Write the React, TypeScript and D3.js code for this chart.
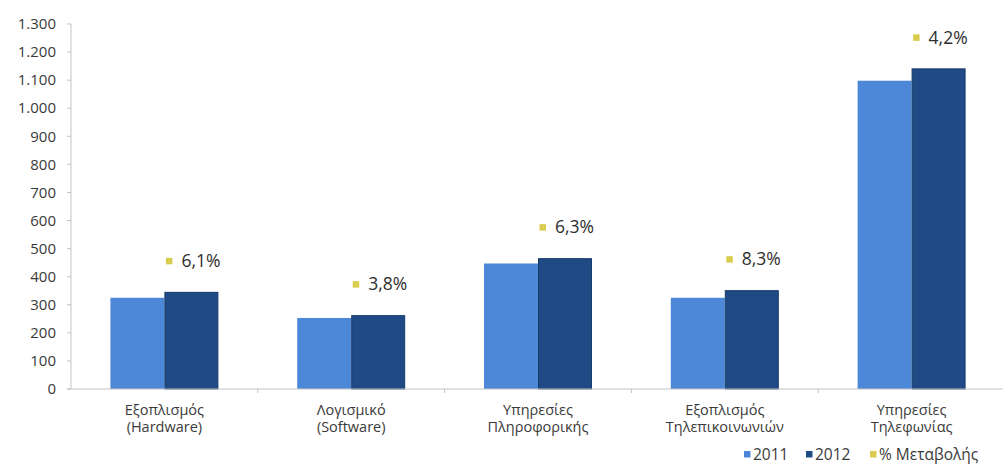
import React from "react";
import * as d3 from "d3";

const categories: string[][] = [
  ["Εξοπλισμός", "(Hardware)"],
  ["Λογισμικό", "(Software)"],
  ["Υπηρεσίες", "Πληροφορικής"],
  ["Εξοπλισμός", "Τηλεπικοινωνιών"],
  ["Υπηρεσίες", "Τηλεφωνίας"],
];
const values2011: number[] = [325, 253, 447, 325, 1098];
const values2012: number[] = [346, 263, 466, 352, 1142];
const pctChange: number[] = [6.1, 3.8, 6.3, 8.3, 4.2];
const yTicks: number[] = [0, 100, 200, 300, 400, 500, 600, 700, 800, 900, 1000, 1100, 1200, 1300];
const seriesNames: string[] = ["2011", "2012"];
const legendLabels: string[] = ["2011", "2012", "% Μεταβολής"];

const W = 1003;
const H = 464;
const FONT = "'Open Sans', 'Noto Sans', sans-serif";
const C2011 = "#4d88d8";
const C2012 = "#1f4a86";
const C2012_EDGE = "#163a6c";
const CPCT = "#d9cc4e";
const TEXT = "#3a3a3a";
const AXIS = "#c4c4c4";

const grLocale = d3.formatLocale({ decimal: ",", thousands: ".", grouping: [3], currency: ["€", ""] });
const fmtTick = grLocale.format(",d");
const fmtPct = (v: number) => grLocale.format(".1f")(v) + "%";

export default function App() {
  const keys = categories.map((c) => c.join(" "));
  const y = d3.scaleLinear().domain([0, 1300]).range([389, 24]);
  const p = 0.422;
  const x = d3.scaleBand<string>().domain(keys).range([71, 1005]).paddingInner(p).paddingOuter(p / 2);
  const xs = d3.scaleBand<string>().domain(seriesNames).range([0, x.bandwidth()]);
  const step = x.step();
  const x0 = 71;

  const legendItems = [
    { label: legendLabels[0], color: C2011, x: 744 },
    { label: legendLabels[1], color: C2012, x: 806 },
    { label: legendLabels[2], color: CPCT, x: 870 },
  ];

  return (
    <svg
      width={W}
      height={H}
      style={{ position: "absolute", left: 0, top: 0, background: "#fff" }}
      fontFamily={FONT}
    >
      {/* y axis */}
      <line x1={x0} x2={x0} y1={y(1300)} y2={y(0)} stroke={AXIS} strokeWidth={1} />
      {yTicks.map((t) => (
        <g key={t}>
          <line x1={x0 - 4} x2={x0} y1={y(t)} y2={y(t)} stroke={AXIS} />
          <text x={56} y={y(t)} dy="0.35em" textAnchor="end" fontSize={15} fill={TEXT}>
            {fmtTick(t)}
          </text>
        </g>
      ))}

      {/* bars */}
      {keys.map((k, i) => (
        <g key={k} transform={`translate(${x(k)},0)`}>
          <rect
            x={xs("2011")}
            y={y(values2011[i])}
            width={xs.bandwidth()}
            height={y(0) - y(values2011[i])}
            fill={C2011}
          />
          <rect
            x={xs("2012")! + 0.5}
            y={y(values2012[i]) + 0.5}
            width={xs.bandwidth() - 1}
            height={y(0) - y(values2012[i]) - 0.5}
            fill={C2012}
            stroke={C2012_EDGE}
            strokeWidth={1}
          />
        </g>
      ))}

      {/* x axis */}
      <line x1={x0 - 4} x2={W} y1={y(0)} y2={y(0)} stroke={AXIS} strokeWidth={1.2} />
      {d3.range(1, categories.length).map((i) => (
        <line key={i} x1={x0 + i * step} x2={x0 + i * step} y1={y(0)} y2={y(0) + 4} stroke={AXIS} />
      ))}
      {keys.map((k, i) => {
        const cx = x(k)! + x.bandwidth() / 2;
        return (
          <text key={k} x={cx} textAnchor="middle" fontSize={14.5} fill={TEXT}>
            <tspan x={cx} y={415}>{categories[i][0]}</tspan>
            <tspan x={cx} y={432}>{categories[i][1]}</tspan>
          </text>
        );
      })}

      {/* % change labels */}
      {keys.map((k, i) => {
        const cx = x(k)! + x.bandwidth() / 2;
        const cy = y(values2012[i]) - 31;
        return (
          <g key={k}>
            <rect x={cx + 1.5} y={cy - 3} width={6.5} height={6.5} fill={CPCT} />
            <text x={cx + 17} y={cy} dy="0.36em" fontSize={17.5} fill="#2f2f2f">
              {fmtPct(pctChange[i])}
            </text>
          </g>
        );
      })}

      {/* legend */}
      {legendItems.map((d) => (
        <g key={d.label}>
          <rect x={d.x} y={451} width={6.5} height={6.5} fill={d.color} />
          <text x={d.x + 9} y={454.5} dy="0.35em" fontSize={15.5} fill={TEXT}>
            {d.label}
          </text>
        </g>
      ))}
    </svg>
  );
}
